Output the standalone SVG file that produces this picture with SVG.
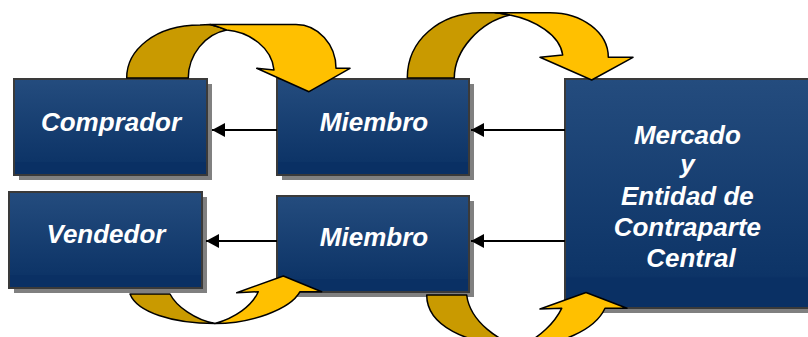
<svg xmlns="http://www.w3.org/2000/svg" width="808" height="337" viewBox="0 0 808 337">
<defs>
<linearGradient id="bg" x1="0" y1="0" x2="0" y2="1">
<stop offset="0" stop-color="#244C7E"/>
<stop offset="0.86" stop-color="#0D3467"/>
<stop offset="0.87" stop-color="#0A3064"/>
<stop offset="1" stop-color="#0A3064"/>
</linearGradient>
<marker id="ah" markerUnits="userSpaceOnUse" markerWidth="14" markerHeight="14" refX="13" refY="7" orient="auto">
<path d="M0,0 L13,7 L0,14 Z" fill="#000"/>
</marker>
</defs>
<style>
.sh{fill:#808080}
.bx{fill:url(#bg);stroke:#3A3A3A;stroke-width:2}
.lb{font-family:"Liberation Sans",Arial,sans-serif;font-weight:bold;font-style:italic;fill:#fff;text-anchor:middle}
.cn{stroke:#000;stroke-width:2;fill:none;marker-end:url(#ah)}
.dk{fill:#C99A00;stroke:#000;stroke-width:1.5;stroke-linejoin:round}
.lt{fill:#FFC000;stroke:#000;stroke-width:1.5;stroke-linejoin:round}
</style>
<rect width="808" height="337" fill="#fff"/>

<g id="comprador">
<rect class="sh" x="19" y="84" width="193" height="96"/>
<rect class="bx" x="14" y="79" width="193" height="96"/>
<text class="lb" x="111" y="131" font-size="26">Comprador</text>
</g>
<g id="miembro-top">
<rect class="sh" x="282" y="84" width="192" height="96"/>
<rect class="bx" x="277" y="79" width="192" height="96"/>
<text class="lb" x="374" y="131" font-size="26">Miembro</text>
</g>
<g id="vendedor">
<rect class="sh" x="14" y="197" width="193" height="96"/>
<rect class="bx" x="9" y="192" width="193" height="96"/>
<text class="lb" x="106" y="243" font-size="26">Vendedor</text>
</g>
<g id="miembro-bottom">
<rect class="sh" x="282" y="201" width="192" height="96"/>
<rect class="bx" x="277" y="196" width="192" height="96"/>
<text class="lb" x="374" y="246" font-size="26">Miembro</text>
</g>
<g id="mercado">
<rect class="sh" x="570" y="84" width="250" height="229"/>
<rect class="bx" x="565" y="79" width="250" height="229"/>
<text class="lb" font-size="26">
<tspan x="691" y="144">Mercado</tspan>
<tspan x="691" y="173">y</tspan>
<tspan x="691" y="205">Entidad de</tspan>
<tspan x="691" y="236">Contraparte</tspan>
<tspan x="691" y="267">Central</tspan>
</text>
</g>

<g id="connectors">
<line class="cn" x1="277" y1="130" x2="212" y2="130"/>
<line class="cn" x1="565" y1="130" x2="471" y2="130"/>
<line class="cn" x1="277" y1="241" x2="206" y2="241"/>
<line class="cn" x1="565" y1="241" x2="471" y2="241"/>

<g id="curve-top-left">
<path class="dk" d="M126.7,78 C126.7,50 155,25 200,25 L210,24.5 C216,26 222,28 226.7,30 C205,34 188.3,55 188.3,78 Z"/>
<path class="lt" d="M210,24.5 L296,24.5 C318,24.5 336,44.5 336,68.3 L350,68.3 L309,91.7 L256.7,68.3 L274,70 C272,48 250,32 226.7,30 C222,28 216,26 210,24.5 Z"/>
</g>
<g id="curve-top-right">
<path class="dk" d="M407.3,78 C407.3,40 440,13 480,12.7 L495,12.7 C502,13.5 506,14 510,15 C480,22 454.3,50 454.3,78 Z"/>
<path class="lt" d="M495,12.7 L550,12.7 C582,12.7 608.3,32.4 608.3,57.3 L633,57.3 L591.7,80 L540,57.3 L562.7,55 C560,35 535,20 510,15 C506,14 502,13.5 495,12.7 Z"/>
</g>
<g id="curve-bottom-left">
<path class="dk" d="M130,294 C137,312 172,323.5 215,323.5 C195,320 176,306 170,294 Z"/>
<path class="lt" d="M215,323.5 C250,323.5 290,310 300,291.7 L321.7,291.7 L283.3,276 L236.7,292.7 L258.3,291.7 C252,306 235,318 215,323.5 Z"/>
</g>
<g id="curve-bottom-right">
<path class="dk" d="M426.7,295 C426.7,325 465,345 520,346 C500,342 470,322 466.7,295 Z"/>
<path class="lt" d="M520,346 C560,346 595,330 605,308.3 L627,308.3 L586,292.5 L540,309 L561.7,308.3 C555,322 540,338 520,346 Z"/>
</g>
</g>
</svg>
